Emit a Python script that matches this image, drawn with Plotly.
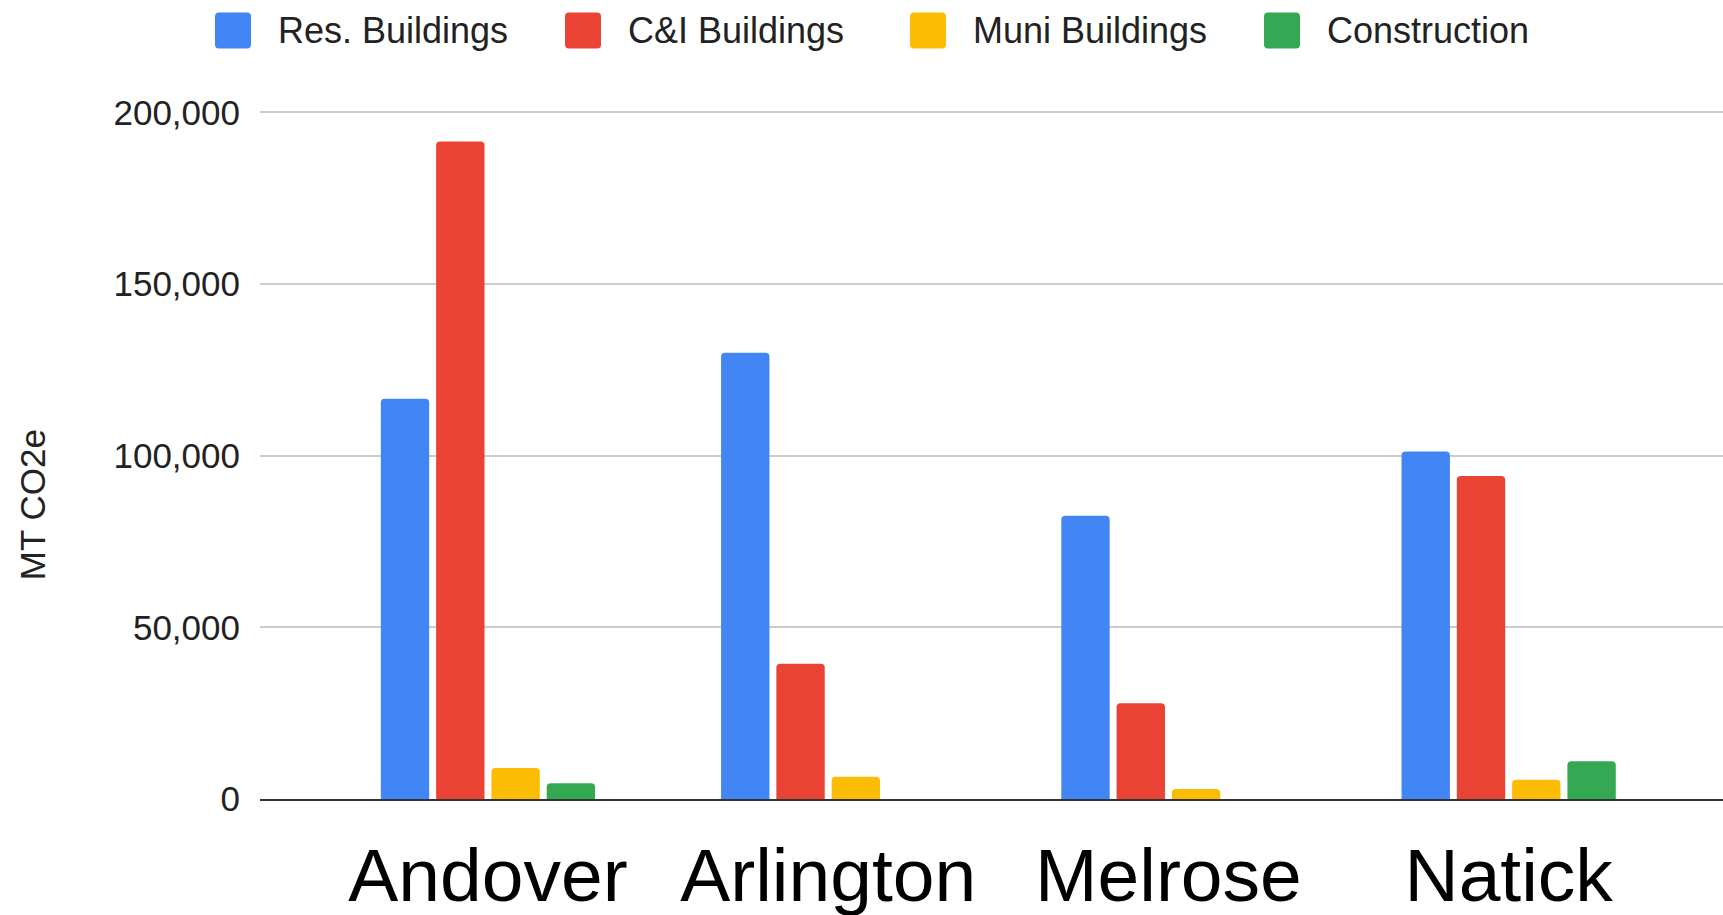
import plotly.graph_objects as go

# ---------------- data ----------------
categories = ["Andover", "Arlington", "Melrose", "Natick"]
series_names = ["Res. Buildings", "C&I Buildings", "Muni Buildings", "Construction"]
res_buildings = [116600, 130000, 82500, 101200]
ci_buildings = [191500, 39400, 27900, 94100]
muni_buildings = [9000, 6500, 2900, 5600]
construction = [4600, None, None, 11000]
series_values = [res_buildings, ci_buildings, muni_buildings, construction]
colors = ["#4285F4", "#EA4335", "#FBBC04", "#34A853"]
y_ticks = [0, 50000, 100000, 150000, 200000]
y_title = "MT CO2e"

# ---------------- layout geometry ----------------
W, H = 1723, 915
L, R, T, B = 260, 0, 112, 116
PW, PH = W - L - R, H - T - B
FONT = "Liberation Sans, Arial, Helvetica, sans-serif"
Y_MAX = 201000  # a bit above the top tick so its gridline is drawn
T_ADJ = T - (Y_MAX - 200000) / 200000 * PH


def px_x(px):
    return (px - L) / PW


def px_y(py):
    return 1 - (py - T_ADJ) / (H - T_ADJ - B)


fig = go.Figure()
for name, vals, col in zip(series_names, series_values, colors):
    fig.add_trace(go.Bar(
        name=name, x=categories, y=vals,
        marker=dict(color=col, line=dict(width=0)),
        showlegend=False,
    ))

# custom legend (large rounded swatches like the reference)
sq_left = [215, 565, 910, 1264]
sq_size = 36
sq_top = 12
shapes = []
annotations = []
r = 4


def P(x, y):
    return f"{px_x(x):.6f},{px_y(y):.6f}"


for name, col, x0 in zip(series_names, colors, sq_left):
    x1 = x0 + sq_size
    y0 = sq_top
    y1 = sq_top + sq_size
    path = (f"M {P(x0 + r, y0)} L {P(x1 - r, y0)} Q {P(x1, y0)} {P(x1, y0 + r)} "
            f"L {P(x1, y1 - r)} Q {P(x1, y1)} {P(x1 - r, y1)} "
            f"L {P(x0 + r, y1)} Q {P(x0, y1)} {P(x0, y1 - r)} "
            f"L {P(x0, y0 + r)} Q {P(x0, y0)} {P(x0 + r, y0)} Z")
    shapes.append(dict(type="path", xref="paper", yref="paper", path=path,
                       fillcolor=col, line=dict(width=0), layer="above"))
    annotations.append(dict(
        xref="paper", yref="paper", x=px_x(x1 + 25), y=px_y(sq_top + sq_size / 2),
        xanchor="left", yanchor="middle", showarrow=False, text=name,
        font=dict(family=FONT, size=36, color="#222222"),
    ))

annotations.append(dict(
    xref="paper", yref="paper", x=px_x(32), y=px_y(505),
    xanchor="center", yanchor="middle", showarrow=False, text=y_title,
    textangle=-90, font=dict(family=FONT, size=35, color="#222222"),
))

fig.update_layout(
    width=W, height=H,
    margin=dict(l=L, r=R, t=T_ADJ, b=B, autoexpand=False),
    barmode="group", bargap=0.35, bargroupgap=0.125, barcornerradius=4,
    plot_bgcolor="white", paper_bgcolor="white",
    font=dict(family=FONT, color="#222222"),
    shapes=shapes, annotations=annotations,
    showlegend=False,
)
fig.update_xaxes(
    range=[-0.67, 3.63], showgrid=False, zeroline=False,
    showline=True, linecolor="#333333", linewidth=2,
    ticks="", ticklabelstandoff=10,
    tickfont=dict(family=FONT, size=75, color="#000000"),
)
fig.update_yaxes(
    range=[0, Y_MAX], tickvals=y_ticks, tickformat=",",
    showgrid=True, gridcolor="#cccccc", gridwidth=2, zeroline=False,
    showline=False, ticks="", ticklabelstandoff=19,
    tickfont=dict(family=FONT, size=35, color="#222222"),
)

fig.write_html(
    "out.html",
    config={"displayModeBar": False},
    post_script=("document.body.style.margin='0';"
                 "document.body.style.overflow='hidden';"
                 "document.documentElement.style.overflow='hidden';"),
)
